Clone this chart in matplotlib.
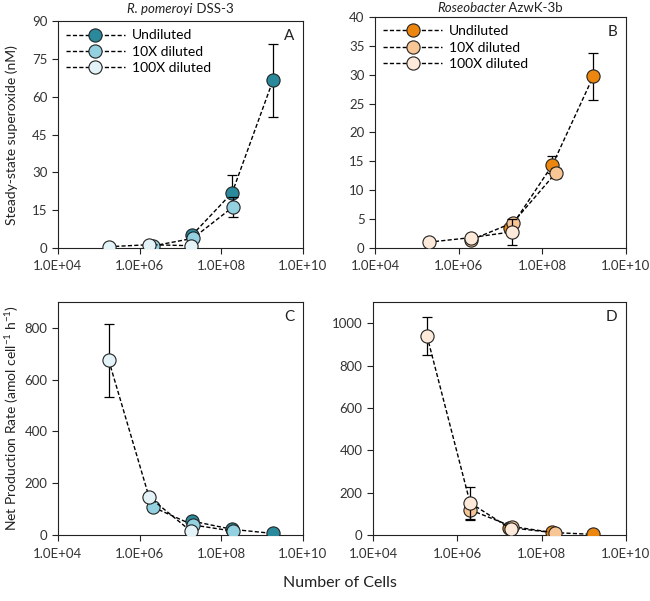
import matplotlib.pyplot as plt
import numpy as np
from matplotlib.ticker import FuncFormatter

plt.rcParams['font.family'] = ['Lato', 'DejaVu Sans']
plt.rcParams['mathtext.fontset'] = 'custom'
plt.rcParams['mathtext.rm'] = 'Lato'
plt.rcParams['mathtext.it'] = 'Lato:italic'

series = ['Undiluted', '10X diluted', '100X diluted']

# R. pomeroyi DSS-3 : cell numbers per series
rp_cells_und = [1.9e7, 1.85e8, 1.85e9]
rp_cells_10x = [2.1e6, 2.0e7, 1.95e8]
rp_cells_100x = [1.75e5, 1.7e6, 1.8e7]
# steady-state superoxide (nM)
rp_ss_und = [5.0, 21.9, 66.5]
rp_ss_und_err = [0.8, 7.0, 14.5]
rp_ss_10x = [0.8, 3.8, 16.3]
rp_ss_10x_err = [0.3, 0.8, 4.0]
rp_ss_100x = [0.5, 1.3, 0.9]
rp_ss_100x_err = [0.2, 0.3, 0.3]
# net production rate (amol cell-1 h-1)
rp_np_und = [54, 22, 6]
rp_np_und_err = [8, 4, 1]
rp_np_10x = [108, 39, 15]
rp_np_10x_err = [15, 6, 3]
rp_np_100x = [675, 147, 15]
rp_np_100x_err = [140, 15, 4]

# Roseobacter AzwK-3b
rs_cells_und = [1.7e7, 1.75e8, 1.65e9]
rs_cells_10x = [2.0e6, 2.0e7, 2.1e8]
rs_cells_100x = [1.9e5, 2.0e6, 1.9e7]
rs_ss_und = [3.4, 14.4, 29.7]
rs_ss_und_err = [0.5, 1.5, 4.1]
rs_ss_10x = [1.4, 4.4, 13.0]
rs_ss_10x_err = [0.3, 0.6, 0.8]
rs_ss_100x = [1.0, 1.8, 2.8]
rs_ss_100x_err = [0.2, 0.3, 2.3]
rs_np_und = [35, 12, 3]
rs_np_und_err = [5, 2, 1]
rs_np_10x = [119, 40, 10]
rs_np_10x_err = [50, 6, 2]
rs_np_100x = [940, 152, 28]
rs_np_100x_err = [90, 75, 5]

teal = ['#2a8a9c', '#93d0e0', '#e4f3f8']
orange = ['#ec860e', '#f8c595', '#fdeadb']

fig = plt.figure(figsize=(6.5, 6.01), dpi=100)
axA = fig.add_axes([0.0892, 0.5874, 0.3768, 0.3776])
axB = fig.add_axes([0.577, 0.5874, 0.386, 0.3843])
axC = fig.add_axes([0.0892, 0.1098, 0.3768, 0.3877])
axD = fig.add_axes([0.574, 0.1098, 0.389, 0.3877])


def panel(ax, cells, vals, errs, colors, ymax, yticks, tag, legend=False):
    for i in range(3):
        ax.errorbar(cells[i], vals[i], yerr=errs[i], fmt='none', ecolor='black',
                    elinewidth=0.9, capsize=3.5, capthick=0.9, zorder=2 + 2 * i)
        ax.plot(cells[i], vals[i], 'o', ls=(0, (3, 1.6)), color='black', lw=1.0,
                mfc=colors[i], mec='#222222', mew=0.8, ms=9.5, label=series[i],
                zorder=3 + 2 * i)
    ax.set_xscale('log')
    ax.set_xlim(1e4, 1e10)
    ax.set_xticks([1e4, 1e6, 1e8, 1e10])
    ax.xaxis.set_minor_locator(plt.NullLocator())
    ax.xaxis.set_major_formatter(FuncFormatter(lambda v, p: f'{v:.1E}'))
    ax.set_ylim(0, ymax)
    ax.set_yticks(yticks)
    ax.tick_params(direction='out', length=4, width=0.8, labelsize=9.5,
                   colors='#222222', labelcolor='#333333')
    ax.tick_params(axis='x', pad=5)
    for s in ax.spines.values():
        s.set_linewidth(0.8)
        s.set_color('#222222')
    ax.text(0.965, 0.965, tag, transform=ax.transAxes, ha='right', va='top',
            fontsize=11, color='#222222')
    if legend:
        ax.legend(loc='upper left', frameon=False, handlelength=4.2,
                  fontsize=10, borderaxespad=0.3, labelspacing=0.3,
                  handletextpad=0.5, borderpad=0.3)


panel(axA, [rp_cells_und, rp_cells_10x, rp_cells_100x],
      [rp_ss_und, rp_ss_10x, rp_ss_100x],
      [rp_ss_und_err, rp_ss_10x_err, rp_ss_100x_err],
      teal, 90, [0, 15, 30, 45, 60, 75, 90], 'A', legend=True)
panel(axB, [rs_cells_und, rs_cells_10x, rs_cells_100x],
      [rs_ss_und, rs_ss_10x, rs_ss_100x],
      [rs_ss_und_err, rs_ss_10x_err, rs_ss_100x_err],
      orange, 40, [0, 5, 10, 15, 20, 25, 30, 35, 40], 'B', legend=True)
panel(axC, [rp_cells_und, rp_cells_10x, rp_cells_100x],
      [rp_np_und, rp_np_10x, rp_np_100x],
      [rp_np_und_err, rp_np_10x_err, rp_np_100x_err],
      teal, 900, [0, 200, 400, 600, 800], 'C')
panel(axD, [rs_cells_und, rs_cells_10x, rs_cells_100x],
      [rs_np_und, rs_np_10x, rs_np_100x],
      [rs_np_und_err, rs_np_10x_err, rs_np_100x_err],
      orange, 1100, [0, 200, 400, 600, 800, 1000], 'D')


def title(cx, y, ital, rest):
    # italic genus/species part followed by the strain name, centred at cx
    t1 = fig.text(0, y, ital, style='italic', ha='left', va='center',
                  fontsize=9.5, color='#222222')
    t2 = fig.text(0, y, ' ' + rest, ha='left', va='center',
                  fontsize=9.5, color='#222222')
    fig.canvas.draw()
    r = fig.canvas.get_renderer()
    w1 = t1.get_window_extent(r).width
    w2 = t2.get_window_extent(r).width
    x0 = cx - (w1 + w2) / 2
    t1.set_x(x0 / 650)
    t2.set_x((x0 + w1) / 650)


title(180.5, 1 - 9 / 601, 'R. pomeroyi', 'DSS-3')
title(500, 1 - 8 / 601, 'Roseobacter', 'AzwK-3b')

fig.text(12 / 650, 0.776, 'Steady-state superoxide (nM)', rotation=90,
         ha='center', va='center', fontsize=10, color='#222222')
fig.text(12 / 650, 0.304, r'Net Production Rate (amol cell$^{-1}$ h$^{-1}$)',
         rotation=90, ha='center', va='center', fontsize=10, color='#222222')
fig.text(340 / 650, 1 - 583 / 601, 'Number of Cells', ha='center', va='center',
         fontsize=11.5, color='#222222')

fig.savefig('out.png', dpi=100)
